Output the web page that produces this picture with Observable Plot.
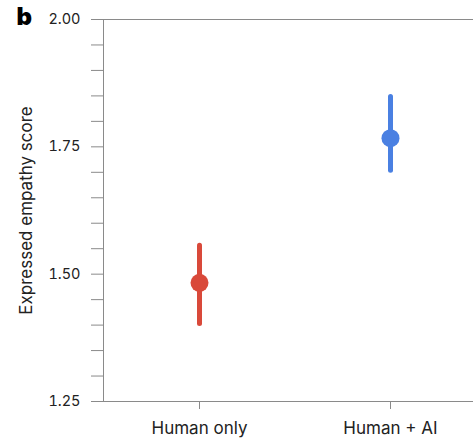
<!DOCTYPE html>
<html><head><meta charset="utf-8">
<script src="https://cdn.jsdelivr.net/npm/d3@7"></script>
<script src="https://cdn.jsdelivr.net/npm/@observablehq/plot@0.6"></script>
<style>body{margin:0;background:#fff;font-family:Inter,sans-serif;overflow:hidden;}</style>
</head><body><div id="chart"></div>
<script>
const groups = ["Human only", "Human + AI"];
const means = [1.483, 1.767];
const lower = [1.402, 1.703];
const upper = [1.556, 1.848];
const colors = ["#d9493a", "#4a80e2"];
const majorTicks = [1.25, 1.50, 1.75, 2.00];
const minorTicks = [1.30, 1.35, 1.40, 1.45, 1.55, 1.60, 1.65, 1.70, 1.80, 1.85, 1.90, 1.95];
const panelLabel = "b";
const yLabel = "Expressed empathy score";

const data = groups.map((g, i) => ({group: g, mean: means[i], lo: lower[i], hi: upper[i]}));
const axisColor = "#8a8a8a";

const chart = Plot.plot({
  width: 473,
  height: 439,
  marginTop: 19,
  marginBottom: 38,
  marginLeft: 103,
  marginRight: 0,
  style: {fontFamily: "Inter, sans-serif", color: "#222", background: "#fff"},
  x: {domain: groups, type: "point", padding: 0.5, range: [103, 486]},
  y: {domain: [1.25, 2.0]},
  color: {domain: groups, range: colors},
  marks: [
    Plot.axisY(minorTicks, {tickSize: 12, tickFormat: () => "", stroke: axisColor, label: null}),
    Plot.axisY(majorTicks, {tickSize: 12, tickPadding: 11, tickFormat: d3.format(".2f"), stroke: axisColor, fontSize: 14.5, label: null}),
    Plot.axisX({tickSize: 8, tickPadding: 12, fontSize: 17, stroke: axisColor, label: null}),
    Plot.frame({anchor: "left", stroke: axisColor}),
    Plot.ruleY([majorTicks[0], majorTicks[majorTicks.length - 1]], {stroke: axisColor}),
    Plot.ruleX(data, {x: "group", y1: "lo", y2: "hi", stroke: "group", strokeWidth: 5, strokeLinecap: "round"}),
    Plot.dot(data, {x: "group", y: "mean", r: 9, fill: "group"}),
    Plot.text([yLabel], {frameAnchor: "left", dx: -77, rotate: -90, fontSize: 17, fill: "#222", textAnchor: "middle"}),
    Plot.text([panelLabel], {frameAnchor: "top-left", dx: -87, dy: 5, textAnchor: "start", lineAnchor: "bottom", fontSize: 24, fontWeight: 900, fill: "#000"})
  ]
});
document.getElementById("chart").appendChild(chart);
</script>
</body></html>
